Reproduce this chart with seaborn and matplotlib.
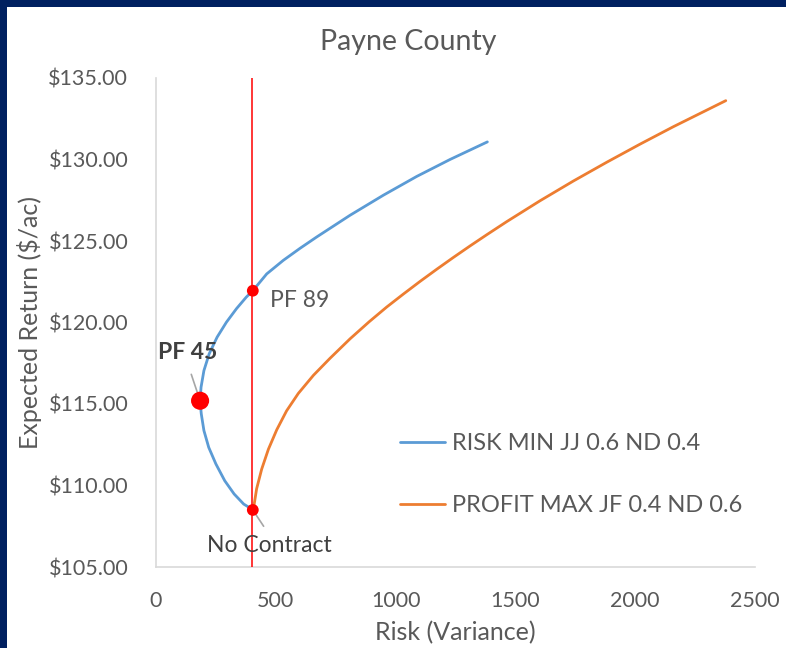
import matplotlib
matplotlib.use("Agg")
import matplotlib.pyplot as plt
import seaborn as sns
import pandas as pd
from matplotlib.patches import Rectangle
from matplotlib.lines import Line2D

# ---- data ----
risk_min_name = "RISK MIN JJ 0.6 ND 0.4"
risk_min_var = [406, 366, 326, 287, 250, 220, 200, 189, 184, 188, 200, 222, 255,
                294, 336, 377, 404, 462, 531, 601, 671, 810, 949, 1088, 1227, 1383]
risk_min_ret = [108.5, 108.86, 109.48, 110.29, 111.32, 112.34, 113.37, 114.39, 115.15,
                116.03, 117.05, 118.08, 119.10, 120.02, 120.85, 121.56, 121.95, 122.98,
                123.81, 124.55, 125.25, 126.58, 127.81, 128.96, 130.0, 131.08]

profit_max_name = "PROFIT MAX JF 0.4 ND 0.6"
profit_max_var = [406, 420, 441, 469, 504, 545, 594, 657, 726, 810, 890, 963, 1032,
                  1102, 1172, 1241, 1311, 1380, 1464, 1603, 1742, 1881, 2020, 2159, 2378]
profit_max_ret = [108.5, 109.8, 111.0, 112.22, 113.42, 114.58, 115.65, 116.76, 117.8,
                  119.0, 120.05, 120.95, 121.74, 122.52, 123.27, 123.99, 124.70, 125.38,
                  126.19, 127.47, 128.68, 129.83, 130.94, 132.01, 133.61]

point_labels = ["PF 89", "PF 45", "No Contract"]
point_var = [404, 184, 404]
point_ret = [121.95, 115.2, 108.5]

constraint_var = 400

x_ticks = [0, 500, 1000, 1500, 2000, 2500]
y_ticks = [105, 110, 115, 120, 125, 130, 135]

df = pd.concat([
    pd.DataFrame({"Risk": risk_min_var, "Return": risk_min_ret, "Series": risk_min_name}),
    pd.DataFrame({"Risk": profit_max_var, "Return": profit_max_ret, "Series": profit_max_name}),
])

# ---- style ----
sns.set_style("white")
plt.rcParams["font.family"] = ["Lato", "DejaVu Sans"]
gray_txt = "#595959"
dark_txt = "#404040"
navy = "#002060"
W, H = 786, 648

fig = plt.figure(figsize=(W / 100, H / 100), dpi=100, facecolor=navy)
bg = Rectangle((7 / W, 0), 1, 1 - 7 / H, transform=fig.transFigure,
               facecolor="white", edgecolor="none", zorder=-10)
fig.add_artist(bg)
ax = fig.add_axes([156 / W, 1 - 567 / H, (755 - 156) / W, (567 - 78) / H])
ax.set_zorder(5)
ax.set_facecolor("white")

sns.lineplot(data=df, x="Risk", y="Return", hue="Series", sort=False, estimator=None,
             palette={risk_min_name: "#5B9BD5", profit_max_name: "#ED7D31"},
             linewidth=2.0, ax=ax, legend=False)
for ln in ax.get_lines():
    ln.set_solid_joinstyle("round")
    ln.set_solid_capstyle("round")

ax.axvline(constraint_var, color="#FF0000", linewidth=1.1, zorder=3)

sns.scatterplot(x=point_var[::2], y=point_ret[::2], color="#FF0000", s=72,
                edgecolor="none", ax=ax, zorder=5)
sns.scatterplot(x=point_var[1:2], y=point_ret[1:2], color="#FF0000", s=170,
                edgecolor="none", ax=ax, zorder=5)

# annotations
ax.annotate(point_labels[0], xy=(point_var[0], point_ret[0]), xytext=(476, 121.35),
            fontsize=16.5, color=gray_txt, va="center", ha="left")
ax.annotate(point_labels[1], xy=(point_var[1], point_ret[1]), xytext=(8, 118.15),
            fontsize=16.5, color=dark_txt, fontweight="bold", va="center", ha="left",
            arrowprops=dict(arrowstyle="-", color="#A6A6A6", lw=1.2,
                            relpos=(0.5, 0), shrinkA=6, shrinkB=0))
ax.annotate(point_labels[2], xy=(point_var[2], point_ret[2]), xytext=(214, 106.3),
            fontsize=16.5, color=dark_txt, va="center", ha="left",
            arrowprops=dict(arrowstyle="-", color="#A6A6A6", lw=1.2,
                            relpos=(0.5, 1), shrinkA=5, shrinkB=0))

ax.set_xlim(0, 2500)
ax.set_ylim(105, 135)
ax.set_xticks(x_ticks)
ax.set_yticks(y_ticks)
ax.set_yticklabels([f"${v:.2f}" for v in y_ticks])
ax.tick_params(axis="both", length=0, labelsize=15.5, labelcolor=gray_txt)
ax.tick_params(axis="y", pad=20)
ax.tick_params(axis="x", pad=17)

for side in ["top", "right"]:
    ax.spines[side].set_visible(False)
for side in ["left", "bottom"]:
    ax.spines[side].set_color("#D9D9D9")
    ax.spines[side].set_linewidth(1.2)

ax.set_xlabel("Risk (Variance)", fontsize=18, color=gray_txt)
ax.set_ylabel("Expected Return ($/ac)", fontsize=18, color=gray_txt)
ax.xaxis.set_label_coords((455 - 156) / (755 - 156), -(633 - 567) / (567 - 78))
ax.yaxis.set_label_coords(-(156 - 30) / (755 - 156), 0.5)
ax.xaxis.label.set_va("center")
ax.yaxis.label.set_va("center")

fig.text(408 / W, 1 - 42 / H, "Payne County", fontsize=20.5, color=gray_txt,
         ha="center", va="center")

# legend
handles = [Line2D([], [], color="#5B9BD5", lw=2.0), Line2D([], [], color="#ED7D31", lw=2.0)]
leg = ax.legend(handles, [risk_min_name, profit_max_name], loc="center left",
                bbox_to_anchor=(400 / W, 1 - 474.5 / H), bbox_transform=fig.transFigure,
                frameon=False, fontsize=17, labelcolor=gray_txt, handlelength=1.9,
                handletextpad=0.3, labelspacing=1.75, borderpad=0, borderaxespad=0)

fig.savefig("out.png", dpi=100, facecolor=navy)
